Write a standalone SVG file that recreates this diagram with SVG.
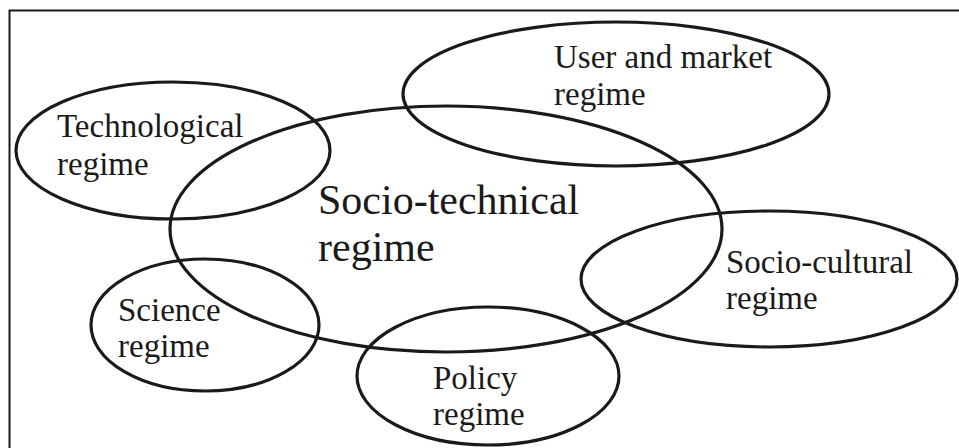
<svg xmlns="http://www.w3.org/2000/svg" width="959" height="448" viewBox="0 0 959 448">
<style>
.e{fill:none;stroke:#1a1a1a;stroke-width:3.2}
.t{font-family:"Liberation Serif","Times New Roman",serif;font-size:33px;fill:#1a1a1a}
.big{font-size:42px}
</style>
<rect x="0" y="0" width="959" height="448" fill="#ffffff"/>
<rect x="9.5" y="10.5" width="960" height="450" fill="none" stroke="#1a1a1a" stroke-width="2"/>
<g id="technological">
<ellipse class="e" cx="173" cy="150.5" rx="157" ry="68.5"/>
<text class="t" x="57" y="137">Technological</text>
<text class="t" x="57" y="175">regime</text>
</g>
<g id="user-market">
<ellipse class="e" cx="616" cy="94" rx="213" ry="72"/>
<text class="t" x="554" y="68">User and market</text>
<text class="t" x="554" y="105">regime</text>
</g>
<g id="socio-technical">
<ellipse class="e" cx="446" cy="229" rx="276" ry="123"/>
<text class="t big" x="318" y="214">Socio-technical</text>
<text class="t big" x="318" y="261">regime</text>
</g>
<g id="socio-cultural">
<ellipse class="e" cx="769" cy="279" rx="188" ry="68"/>
<text class="t" x="726" y="273">Socio-cultural</text>
<text class="t" x="726" y="309">regime</text>
</g>
<g id="science">
<ellipse class="e" cx="205" cy="325" rx="114" ry="66"/>
<text class="t" x="118" y="321">Science</text>
<text class="t" x="118" y="357">regime</text>
</g>
<g id="policy">
<ellipse class="e" cx="488" cy="376" rx="131" ry="69"/>
<text class="t" x="433" y="389">Policy</text>
<text class="t" x="433" y="425">regime</text>
</g>
<g id="connectors"></g>
</svg>
